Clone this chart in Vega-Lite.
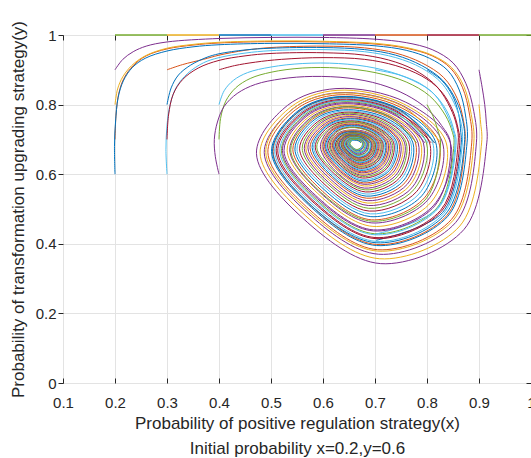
{
"$schema":"https://vega.github.io/schema/vega-lite/v6.json",
"width":468,"height":348,
"autosize":{"type":"none"},
"padding":{"left":63,"top":35,"right":0,"bottom":75},
"background":"#ffffff",
"config":{
"view":{"stroke":"#262626","strokeWidth":1},
"axis":{"labelFont":"Liberation Sans","titleFont":"Liberation Sans","labelFontSize":15,"titleFontSize":17,"labelColor":"#262626","titleColor":"#262626","titleFontWeight":"normal","gridColor":"#e3e3e3","domain":false,"tickColor":"#262626","tickSize":-5,"labelFlush":false,"labelOverlap":false}
},
"datasets":{
"traj":[
{"t":4,"x":0.9,"y":0.9},{"t":4,"x":0.906,"y":0.85},{"t":4,"x":0.911,"y":0.8},{"t":4,"x":0.914,"y":0.75},
{"t":4,"x":0.915,"y":0.69},{"t":4,"x":0.871,"y":0.441},{"t":4,"x":0.711,"y":0.343},{"t":4,"x":0.563,"y":0.471},{"t":4,"x":0.472,"y":0.66},{"t":4,"x":0.532,"y":0.798},{"t":4,"x":0.625,"y":0.846},{"t":4,"x":0.759,"y":0.807},
{"t":4,"x":0.845,"y":0.69},{"t":4,"x":0.813,"y":0.511},{"t":4,"x":0.697,"y":0.44},{"t":4,"x":0.591,"y":0.532},{"t":4,"x":0.525,"y":0.668},{"t":4,"x":0.569,"y":0.767},{"t":4,"x":0.635,"y":0.802},{"t":4,"x":0.732,"y":0.774},
{"t":4,"x":0.793,"y":0.69},{"t":4,"x":0.771,"y":0.561},{"t":4,"x":0.687,"y":0.51},{"t":4,"x":0.611,"y":0.576},{"t":4,"x":0.564,"y":0.674},{"t":4,"x":0.595,"y":0.746},{"t":4,"x":0.643,"y":0.772},{"t":4,"x":0.712,"y":0.75},
{"t":4,"x":0.757,"y":0.69},{"t":4,"x":0.74,"y":0.597},{"t":4,"x":0.68,"y":0.56},{"t":4,"x":0.625,"y":0.608},{"t":4,"x":0.595,"y":0.679},{"t":4,"x":0.614,"y":0.73},{"t":4,"x":0.648,"y":0.749},{"t":4,"x":0.698,"y":0.734},
{"t":4,"x":0.73,"y":0.69},{"t":4,"x":0.718,"y":0.623},{"t":4,"x":0.675,"y":0.597},{"t":4,"x":0.635,"y":0.631},{"t":4,"x":0.614,"y":0.682},{"t":4,"x":0.627,"y":0.716},{"t":4,"x":0.652,"y":0.727},{"t":4,"x":0.688,"y":0.719},
{"t":4,"x":0.711,"y":0.69},{"t":4,"x":0.703,"y":0.642},{"t":4,"x":0.671,"y":0.623},{"t":4,"x":0.643,"y":0.648},{"t":4,"x":0.627,"y":0.684},{"t":4,"x":0.637,"y":0.709},{"t":4,"x":0.655,"y":0.717},{"t":4,"x":0.681,"y":0.711},
{"t":4,"x":0.697,"y":0.69},{"t":4,"x":0.691,"y":0.655},{"t":4,"x":0.669,"y":0.642},{"t":4,"x":0.648,"y":0.66},{"t":4,"x":0.637,"y":0.686},{"t":4,"x":0.644,"y":0.703},{"t":4,"x":0.657,"y":0.709},{"t":4,"x":0.676,"y":0.705},
{"t":4,"x":0.687,"y":0.69},{"t":4,"x":0.683,"y":0.665},{"t":4,"x":0.667,"y":0.655},{"t":4,"x":0.652,"y":0.668},{"t":4,"x":0.644,"y":0.687},{"t":4,"x":0.649,"y":0.7},{"t":4,"x":0.658,"y":0.704},{"t":4,"x":0.672,"y":0.701},{"t":4,"x":0.68,"y":0.69},
{"t":5,"x":0.9,"y":0.8},{"t":5,"x":0.903,"y":0.75},
{"t":5,"x":0.905,"y":0.69},{"t":5,"x":0.863,"y":0.451},{"t":5,"x":0.709,"y":0.357},{"t":5,"x":0.567,"y":0.48},{"t":5,"x":0.479,"y":0.661},{"t":5,"x":0.538,"y":0.793},{"t":5,"x":0.627,"y":0.841},{"t":5,"x":0.755,"y":0.802},
{"t":5,"x":0.837,"y":0.69},{"t":5,"x":0.807,"y":0.518},{"t":5,"x":0.696,"y":0.45},{"t":5,"x":0.594,"y":0.539},{"t":5,"x":0.531,"y":0.669},{"t":5,"x":0.572,"y":0.764},{"t":5,"x":0.637,"y":0.798},{"t":5,"x":0.729,"y":0.77},
{"t":5,"x":0.788,"y":0.69},{"t":5,"x":0.766,"y":0.566},{"t":5,"x":0.686,"y":0.517},{"t":5,"x":0.613,"y":0.581},{"t":5,"x":0.567,"y":0.675},{"t":5,"x":0.598,"y":0.744},{"t":5,"x":0.644,"y":0.768},{"t":5,"x":0.71,"y":0.748},
{"t":5,"x":0.753,"y":0.69},{"t":5,"x":0.737,"y":0.601},{"t":5,"x":0.68,"y":0.566},{"t":5,"x":0.627,"y":0.612},{"t":5,"x":0.598,"y":0.679},{"t":5,"x":0.616,"y":0.728},{"t":5,"x":0.649,"y":0.747},{"t":5,"x":0.697,"y":0.732},
{"t":5,"x":0.727,"y":0.69},{"t":5,"x":0.716,"y":0.626},{"t":5,"x":0.675,"y":0.6},{"t":5,"x":0.636,"y":0.634},{"t":5,"x":0.616,"y":0.682},{"t":5,"x":0.629,"y":0.715},{"t":5,"x":0.652,"y":0.726},{"t":5,"x":0.687,"y":0.717},
{"t":5,"x":0.709,"y":0.69},{"t":5,"x":0.701,"y":0.644},{"t":5,"x":0.671,"y":0.625},{"t":5,"x":0.644,"y":0.649},{"t":5,"x":0.629,"y":0.684},{"t":5,"x":0.638,"y":0.708},{"t":5,"x":0.655,"y":0.716},{"t":5,"x":0.68,"y":0.71},
{"t":5,"x":0.696,"y":0.69},{"t":5,"x":0.69,"y":0.657},{"t":5,"x":0.669,"y":0.644},{"t":5,"x":0.649,"y":0.661},{"t":5,"x":0.638,"y":0.686},{"t":5,"x":0.645,"y":0.703},{"t":5,"x":0.657,"y":0.708},{"t":5,"x":0.675,"y":0.704},
{"t":6,"x":0.2,"y":0.9},{"t":6,"x":0.215,"y":0.93},{"t":6,"x":0.235,"y":0.952},{"t":6,"x":0.26,"y":0.968},{"t":6,"x":0.3,"y":0.98},{"t":6,"x":0.4,"y":0.99},{"t":6,"x":0.5,"y":0.993},{"t":6,"x":0.6,"y":0.993},{"t":6,"x":0.7,"y":0.988},{"t":6,"x":0.76,"y":0.978},{"t":6,"x":0.81,"y":0.958},{"t":6,"x":0.85,"y":0.92},{"t":6,"x":0.875,"y":0.86},{"t":6,"x":0.89,"y":0.78},
{"t":6,"x":0.895,"y":0.69},{"t":6,"x":0.855,"y":0.461},{"t":6,"x":0.707,"y":0.37},{"t":6,"x":0.571,"y":0.488},{"t":6,"x":0.487,"y":0.662},{"t":6,"x":0.543,"y":0.789},{"t":6,"x":0.628,"y":0.834},{"t":6,"x":0.752,"y":0.798},
{"t":6,"x":0.83,"y":0.69},{"t":6,"x":0.801,"y":0.525},{"t":6,"x":0.694,"y":0.46},{"t":6,"x":0.596,"y":0.545},{"t":6,"x":0.536,"y":0.67},{"t":6,"x":0.576,"y":0.762},{"t":6,"x":0.638,"y":0.794},{"t":6,"x":0.727,"y":0.767},
{"t":6,"x":0.783,"y":0.69},{"t":6,"x":0.762,"y":0.571},{"t":6,"x":0.685,"y":0.524},{"t":6,"x":0.615,"y":0.585},{"t":6,"x":0.571,"y":0.676},{"t":6,"x":0.6,"y":0.741},{"t":6,"x":0.644,"y":0.765},{"t":6,"x":0.708,"y":0.746},
{"t":6,"x":0.749,"y":0.69},{"t":6,"x":0.734,"y":0.604},{"t":6,"x":0.679,"y":0.571},{"t":6,"x":0.628,"y":0.615},{"t":6,"x":0.6,"y":0.68},{"t":6,"x":0.617,"y":0.727},{"t":6,"x":0.649,"y":0.744},{"t":6,"x":0.695,"y":0.73},
{"t":6,"x":0.725,"y":0.69},{"t":6,"x":0.714,"y":0.628},{"t":6,"x":0.674,"y":0.604},{"t":6,"x":0.637,"y":0.636},{"t":6,"x":0.618,"y":0.683},{"t":6,"x":0.63,"y":0.714},{"t":6,"x":0.653,"y":0.724},{"t":6,"x":0.686,"y":0.716},
{"t":6,"x":0.707,"y":0.69},{"t":6,"x":0.699,"y":0.646},{"t":6,"x":0.671,"y":0.628},{"t":6,"x":0.644,"y":0.651},{"t":6,"x":0.63,"y":0.685},{"t":6,"x":0.639,"y":0.707},{"t":6,"x":0.655,"y":0.715},{"t":6,"x":0.679,"y":0.709},
{"t":6,"x":0.694,"y":0.69},{"t":6,"x":0.689,"y":0.658},{"t":6,"x":0.668,"y":0.646},{"t":6,"x":0.649,"y":0.662},{"t":6,"x":0.639,"y":0.686},{"t":6,"x":0.645,"y":0.702},{"t":6,"x":0.657,"y":0.708},{"t":6,"x":0.675,"y":0.704},
{"t":6,"x":0.685,"y":0.69},{"t":6,"x":0.681,"y":0.667},{"t":6,"x":0.667,"y":0.658},{"t":6,"x":0.653,"y":0.67},{"t":6,"x":0.645,"y":0.687},{"t":6,"x":0.65,"y":0.699},{"t":6,"x":0.659,"y":0.703},{"t":6,"x":0.671,"y":0.7},
{"t":6,"x":0.679,"y":0.69},{"t":6,"x":0.676,"y":0.673},{"t":6,"x":0.665,"y":0.667},{"t":6,"x":0.655,"y":0.676},{"t":6,"x":0.65,"y":0.688},{"t":6,"x":0.653,"y":0.696},{"t":6,"x":0.66,"y":0.699},{"t":6,"x":0.668,"y":0.697},{"t":6,"x":0.674,"y":0.69},
{"t":7,"x":0.2,"y":0.7},{"t":7,"x":0.202,"y":0.77},{"t":7,"x":0.207,"y":0.83},{"t":7,"x":0.217,"y":0.875},{"t":7,"x":0.235,"y":0.912},{"t":7,"x":0.26,"y":0.94},{"t":7,"x":0.3,"y":0.96},{"t":7,"x":0.35,"y":0.971},{"t":7,"x":0.4,"y":0.977},{"t":7,"x":0.5,"y":0.981},{"t":7,"x":0.6,"y":0.98},{"t":7,"x":0.7,"y":0.974},{"t":7,"x":0.76,"y":0.962},{"t":7,"x":0.81,"y":0.94},{"t":7,"x":0.845,"y":0.905},{"t":7,"x":0.868,"y":0.85},{"t":7,"x":0.882,"y":0.77},
{"t":7,"x":0.886,"y":0.69},{"t":7,"x":0.847,"y":0.47},{"t":7,"x":0.705,"y":0.383},{"t":7,"x":0.575,"y":0.497},{"t":7,"x":0.494,"y":0.663},{"t":7,"x":0.547,"y":0.785},{"t":7,"x":0.629,"y":0.828},{"t":7,"x":0.748,"y":0.793},
{"t":7,"x":0.823,"y":0.69},{"t":7,"x":0.795,"y":0.532},{"t":7,"x":0.693,"y":0.469},{"t":7,"x":0.599,"y":0.551},{"t":7,"x":0.542,"y":0.671},{"t":7,"x":0.58,"y":0.758},{"t":7,"x":0.639,"y":0.79},{"t":7,"x":0.724,"y":0.765},
{"t":7,"x":0.778,"y":0.69},{"t":7,"x":0.758,"y":0.576},{"t":7,"x":0.684,"y":0.531},{"t":7,"x":0.617,"y":0.59},{"t":7,"x":0.575,"y":0.676},{"t":7,"x":0.603,"y":0.739},{"t":7,"x":0.645,"y":0.761},{"t":7,"x":0.707,"y":0.744},
{"t":7,"x":0.746,"y":0.69},{"t":7,"x":0.731,"y":0.608},{"t":7,"x":0.678,"y":0.575},{"t":7,"x":0.629,"y":0.618},{"t":7,"x":0.603,"y":0.68},{"t":7,"x":0.619,"y":0.726},{"t":7,"x":0.65,"y":0.742},{"t":7,"x":0.694,"y":0.729},
{"t":7,"x":0.722,"y":0.69},{"t":7,"x":0.712,"y":0.631},{"t":7,"x":0.674,"y":0.607},{"t":7,"x":0.639,"y":0.638},{"t":7,"x":0.619,"y":0.683},{"t":7,"x":0.631,"y":0.713},{"t":7,"x":0.653,"y":0.723},{"t":7,"x":0.685,"y":0.715},
{"t":7,"x":0.705,"y":0.69},{"t":7,"x":0.698,"y":0.648},{"t":7,"x":0.67,"y":0.63},{"t":7,"x":0.645,"y":0.653},{"t":7,"x":0.631,"y":0.685},{"t":7,"x":0.64,"y":0.706},{"t":7,"x":0.656,"y":0.714},{"t":7,"x":0.679,"y":0.708},
{"t":7,"x":0.693,"y":0.69},{"t":7,"x":0.688,"y":0.659},{"t":7,"x":0.668,"y":0.647},{"t":7,"x":0.65,"y":0.663},{"t":7,"x":0.64,"y":0.686},{"t":7,"x":0.646,"y":0.702},{"t":7,"x":0.657,"y":0.707},{"t":7,"x":0.674,"y":0.703},{"t":7,"x":0.685,"y":0.69},
{"t":9,"x":0.2,"y":0.8},{"t":9,"x":0.205,"y":0.845},{"t":9,"x":0.215,"y":0.88},{"t":9,"x":0.232,"y":0.912},{"t":9,"x":0.258,"y":0.94},{"t":9,"x":0.3,"y":0.962},{"t":9,"x":0.35,"y":0.973},{"t":9,"x":0.4,"y":0.979},{"t":9,"x":0.5,"y":0.983},{"t":9,"x":0.6,"y":0.982},{"t":9,"x":0.7,"y":0.976},{"t":9,"x":0.76,"y":0.964},{"t":9,"x":0.81,"y":0.942},{"t":9,"x":0.847,"y":0.907},{"t":9,"x":0.871,"y":0.852},{"t":9,"x":0.885,"y":0.772},
{"t":9,"x":0.89,"y":0.69},{"t":9,"x":0.85,"y":0.467},{"t":9,"x":0.705,"y":0.379},{"t":9,"x":0.572,"y":0.494},{"t":9,"x":0.49,"y":0.663},{"t":9,"x":0.544,"y":0.79},{"t":9,"x":0.629,"y":0.833},{"t":9,"x":0.751,"y":0.797},{"t":9,"x":0.827,"y":0.69},
{"t":0,"x":0.2,"y":0.6},{"t":0,"x":0.199,"y":0.68},{"t":0,"x":0.201,"y":0.75},{"t":0,"x":0.206,"y":0.82},{"t":0,"x":0.216,"y":0.868},{"t":0,"x":0.233,"y":0.906},{"t":0,"x":0.258,"y":0.933},{"t":0,"x":0.3,"y":0.954},{"t":0,"x":0.35,"y":0.966},{"t":0,"x":0.4,"y":0.972},{"t":0,"x":0.5,"y":0.976},{"t":0,"x":0.6,"y":0.975},{"t":0,"x":0.7,"y":0.969},{"t":0,"x":0.76,"y":0.956},{"t":0,"x":0.805,"y":0.933},{"t":0,"x":0.84,"y":0.898},{"t":0,"x":0.862,"y":0.842},{"t":0,"x":0.874,"y":0.77},
{"t":0,"x":0.877,"y":0.69},{"t":0,"x":0.84,"y":0.479},{"t":0,"x":0.703,"y":0.395},{"t":0,"x":0.578,"y":0.504},{"t":0,"x":0.501,"y":0.665},{"t":0,"x":0.552,"y":0.782},{"t":0,"x":0.631,"y":0.823},{"t":0,"x":0.745,"y":0.789},
{"t":0,"x":0.817,"y":0.69},{"t":0,"x":0.79,"y":0.538},{"t":0,"x":0.692,"y":0.478},{"t":0,"x":0.602,"y":0.556},{"t":0,"x":0.546,"y":0.672},{"t":0,"x":0.583,"y":0.756},{"t":0,"x":0.639,"y":0.785},{"t":0,"x":0.722,"y":0.761},
{"t":0,"x":0.773,"y":0.69},{"t":0,"x":0.754,"y":0.58},{"t":0,"x":0.683,"y":0.537},{"t":0,"x":0.618,"y":0.594},{"t":0,"x":0.579,"y":0.677},{"t":0,"x":0.605,"y":0.737},{"t":0,"x":0.646,"y":0.759},{"t":0,"x":0.705,"y":0.742},
{"t":0,"x":0.742,"y":0.69},{"t":0,"x":0.728,"y":0.611},{"t":0,"x":0.677,"y":0.58},{"t":0,"x":0.631,"y":0.621},{"t":0,"x":0.605,"y":0.68},{"t":0,"x":0.621,"y":0.724},{"t":0,"x":0.65,"y":0.74},{"t":0,"x":0.693,"y":0.727},
{"t":0,"x":0.72,"y":0.69},{"t":0,"x":0.71,"y":0.633},{"t":0,"x":0.673,"y":0.611},{"t":0,"x":0.639,"y":0.64},{"t":0,"x":0.621,"y":0.683},{"t":0,"x":0.632,"y":0.712},{"t":0,"x":0.654,"y":0.722},{"t":0,"x":0.684,"y":0.714},
{"t":0,"x":0.703,"y":0.69},{"t":0,"x":0.696,"y":0.649},{"t":0,"x":0.67,"y":0.633},{"t":0,"x":0.646,"y":0.654},{"t":0,"x":0.632,"y":0.685},{"t":0,"x":0.641,"y":0.706},{"t":0,"x":0.656,"y":0.713},{"t":0,"x":0.678,"y":0.707},
{"t":0,"x":0.692,"y":0.69},{"t":0,"x":0.687,"y":0.661},{"t":0,"x":0.668,"y":0.649},{"t":0,"x":0.65,"y":0.664},{"t":0,"x":0.641,"y":0.686},{"t":0,"x":0.647,"y":0.701},{"t":0,"x":0.658,"y":0.706},{"t":0,"x":0.674,"y":0.703},
{"t":0,"x":0.684,"y":0.69},{"t":0,"x":0.68,"y":0.669},{"t":0,"x":0.666,"y":0.661},{"t":0,"x":0.654,"y":0.671},{"t":0,"x":0.647,"y":0.687},{"t":0,"x":0.651,"y":0.698},{"t":0,"x":0.659,"y":0.702},{"t":0,"x":0.67,"y":0.699},
{"t":0,"x":0.677,"y":0.69},{"t":0,"x":0.675,"y":0.675},{"t":0,"x":0.665,"y":0.669},{"t":0,"x":0.656,"y":0.677},{"t":0,"x":0.651,"y":0.688},{"t":0,"x":0.654,"y":0.696},{"t":0,"x":0.66,"y":0.698},{"t":0,"x":0.668,"y":0.696},{"t":0,"x":0.673,"y":0.69},
{"t":11,"x":0.3,"y":0.9},{"t":11,"x":0.33,"y":0.915},{"t":11,"x":0.37,"y":0.93},{"t":11,"x":0.4,"y":0.942},{"t":11,"x":0.45,"y":0.956},{"t":11,"x":0.5,"y":0.964},{"t":11,"x":0.6,"y":0.968},{"t":11,"x":0.68,"y":0.963},{"t":11,"x":0.74,"y":0.948},{"t":11,"x":0.79,"y":0.92},{"t":11,"x":0.832,"y":0.878},{"t":11,"x":0.858,"y":0.818},{"t":11,"x":0.87,"y":0.755},{"t":11,"x":0.873,"y":0.69},
{"t":11,"x":0.838,"y":0.481},{"t":11,"x":0.703,"y":0.398},{"t":11,"x":0.58,"y":0.506},{"t":11,"x":0.504,"y":0.665},{"t":11,"x":0.554,"y":0.78},{"t":11,"x":0.631,"y":0.82},{"t":11,"x":0.743,"y":0.787},{"t":11,"x":0.814,"y":0.69},
{"t":16,"x":0.8,"y":0.9},{"t":16,"x":0.828,"y":0.87},{"t":16,"x":0.849,"y":0.826},{"t":16,"x":0.861,"y":0.772},{"t":16,"x":0.865,"y":0.72},{"t":16,"x":0.866,"y":0.69},{"t":16,"x":0.83,"y":0.49},{"t":16,"x":0.702,"y":0.41},
{"t":1,"x":0.3,"y":0.6},{"t":1,"x":0.298,"y":0.67},{"t":1,"x":0.3,"y":0.74},{"t":1,"x":0.306,"y":0.8},{"t":1,"x":0.318,"y":0.85},{"t":1,"x":0.34,"y":0.89},{"t":1,"x":0.37,"y":0.92},{"t":1,"x":0.4,"y":0.935},{"t":1,"x":0.45,"y":0.948},{"t":1,"x":0.5,"y":0.955},{"t":1,"x":0.6,"y":0.958},{"t":1,"x":0.68,"y":0.952},{"t":1,"x":0.74,"y":0.935},{"t":1,"x":0.79,"y":0.905},{"t":1,"x":0.828,"y":0.862},{"t":1,"x":0.852,"y":0.805},{"t":1,"x":0.865,"y":0.75},
{"t":1,"x":0.868,"y":0.69},{"t":1,"x":0.832,"y":0.487},{"t":1,"x":0.702,"y":0.407},{"t":1,"x":0.581,"y":0.512},{"t":1,"x":0.507,"y":0.666},{"t":1,"x":0.556,"y":0.777},{"t":1,"x":0.632,"y":0.818},{"t":1,"x":0.741,"y":0.785},
{"t":1,"x":0.811,"y":0.69},{"t":1,"x":0.785,"y":0.544},{"t":1,"x":0.691,"y":0.486},{"t":1,"x":0.604,"y":0.562},{"t":1,"x":0.55,"y":0.672},{"t":1,"x":0.586,"y":0.753},{"t":1,"x":0.64,"y":0.782},{"t":1,"x":0.719,"y":0.758},
{"t":1,"x":0.769,"y":0.69},{"t":1,"x":0.75,"y":0.585},{"t":1,"x":0.683,"y":0.543},{"t":1,"x":0.62,"y":0.598},{"t":1,"x":0.582,"y":0.677},{"t":1,"x":0.607,"y":0.736},{"t":1,"x":0.646,"y":0.756},{"t":1,"x":0.703,"y":0.739},
{"t":1,"x":0.739,"y":0.69},{"t":1,"x":0.726,"y":0.614},{"t":1,"x":0.677,"y":0.584},{"t":1,"x":0.632,"y":0.623},{"t":1,"x":0.607,"y":0.681},{"t":1,"x":0.623,"y":0.723},{"t":1,"x":0.651,"y":0.738},{"t":1,"x":0.692,"y":0.725},
{"t":1,"x":0.717,"y":0.69},{"t":1,"x":0.708,"y":0.636},{"t":1,"x":0.673,"y":0.614},{"t":1,"x":0.64,"y":0.642},{"t":1,"x":0.623,"y":0.683},{"t":1,"x":0.634,"y":0.711},{"t":1,"x":0.654,"y":0.72},{"t":1,"x":0.683,"y":0.713},
{"t":1,"x":0.702,"y":0.69},{"t":1,"x":0.695,"y":0.651},{"t":1,"x":0.67,"y":0.635},{"t":1,"x":0.646,"y":0.656},{"t":1,"x":0.634,"y":0.685},{"t":1,"x":0.642,"y":0.705},{"t":1,"x":0.656,"y":0.712},{"t":1,"x":0.677,"y":0.707},
{"t":1,"x":0.691,"y":0.69},{"t":1,"x":0.686,"y":0.662},{"t":1,"x":0.668,"y":0.651},{"t":1,"x":0.651,"y":0.665},{"t":1,"x":0.641,"y":0.687},{"t":1,"x":0.647,"y":0.701},{"t":1,"x":0.658,"y":0.706},{"t":1,"x":0.673,"y":0.702},
{"t":1,"x":0.683,"y":0.69},{"t":1,"x":0.679,"y":0.67},{"t":1,"x":0.666,"y":0.662},{"t":1,"x":0.654,"y":0.672},{"t":1,"x":0.647,"y":0.688},{"t":1,"x":0.651,"y":0.698},{"t":1,"x":0.659,"y":0.701},{"t":1,"x":0.67,"y":0.699},
{"t":1,"x":0.677,"y":0.69},{"t":1,"x":0.674,"y":0.675},{"t":1,"x":0.665,"y":0.67},{"t":1,"x":0.656,"y":0.677},{"t":1,"x":0.651,"y":0.688},{"t":1,"x":0.654,"y":0.696},{"t":1,"x":0.66,"y":0.698},
{"t":10,"x":0.3,"y":0.8},{"t":10,"x":0.308,"y":0.848},{"t":10,"x":0.322,"y":0.885},{"t":10,"x":0.345,"y":0.913},{"t":10,"x":0.375,"y":0.935},{"t":10,"x":0.4,"y":0.946},{"t":10,"x":0.45,"y":0.957},{"t":10,"x":0.5,"y":0.962},{"t":10,"x":0.6,"y":0.964},{"t":10,"x":0.68,"y":0.958},{"t":10,"x":0.74,"y":0.942},{"t":10,"x":0.79,"y":0.912},{"t":10,"x":0.83,"y":0.87},{"t":10,"x":0.856,"y":0.812},{"t":10,"x":0.869,"y":0.752},{"t":10,"x":0.872,"y":0.69},
{"t":10,"x":0.835,"y":0.484},{"t":10,"x":0.702,"y":0.403},{"t":10,"x":0.578,"y":0.509},{"t":10,"x":0.503,"y":0.666},{"t":10,"x":0.553,"y":0.78},{"t":10,"x":0.632,"y":0.822},{"t":10,"x":0.744,"y":0.788},{"t":10,"x":0.815,"y":0.69},
{"t":2,"x":0.3,"y":0.7},{"t":2,"x":0.303,"y":0.77},{"t":2,"x":0.312,"y":0.83},{"t":2,"x":0.33,"y":0.872},{"t":2,"x":0.36,"y":0.905},{"t":2,"x":0.4,"y":0.927},{"t":2,"x":0.45,"y":0.94},{"t":2,"x":0.5,"y":0.947},{"t":2,"x":0.6,"y":0.949},{"t":2,"x":0.68,"y":0.942},{"t":2,"x":0.74,"y":0.922},{"t":2,"x":0.785,"y":0.892},{"t":2,"x":0.82,"y":0.85},{"t":2,"x":0.845,"y":0.79},{"t":2,"x":0.857,"y":0.74},
{"t":2,"x":0.86,"y":0.69},{"t":2,"x":0.826,"y":0.496},{"t":2,"x":0.7,"y":0.418},{"t":2,"x":0.585,"y":0.519},{"t":2,"x":0.513,"y":0.667},{"t":2,"x":0.561,"y":0.774},{"t":2,"x":0.633,"y":0.812},{"t":2,"x":0.738,"y":0.781},
{"t":2,"x":0.805,"y":0.69},{"t":2,"x":0.78,"y":0.55},{"t":2,"x":0.689,"y":0.494},{"t":2,"x":0.606,"y":0.567},{"t":2,"x":0.555,"y":0.673},{"t":2,"x":0.589,"y":0.75},{"t":2,"x":0.641,"y":0.778},{"t":2,"x":0.717,"y":0.756},
{"t":2,"x":0.765,"y":0.69},{"t":2,"x":0.747,"y":0.589},{"t":2,"x":0.682,"y":0.549},{"t":2,"x":0.622,"y":0.601},{"t":2,"x":0.585,"y":0.678},{"t":2,"x":0.609,"y":0.734},{"t":2,"x":0.647,"y":0.753},{"t":2,"x":0.701,"y":0.737},
{"t":2,"x":0.736,"y":0.69},{"t":2,"x":0.723,"y":0.617},{"t":2,"x":0.676,"y":0.589},{"t":2,"x":0.633,"y":0.626},{"t":2,"x":0.609,"y":0.681},{"t":2,"x":0.624,"y":0.721},{"t":2,"x":0.651,"y":0.735},{"t":2,"x":0.69,"y":0.724},
{"t":2,"x":0.715,"y":0.69},{"t":2,"x":0.706,"y":0.638},{"t":2,"x":0.672,"y":0.617},{"t":2,"x":0.641,"y":0.644},{"t":2,"x":0.624,"y":0.684},{"t":2,"x":0.635,"y":0.71},{"t":2,"x":0.654,"y":0.719},{"t":2,"x":0.682,"y":0.712},
{"t":2,"x":0.7,"y":0.69},{"t":2,"x":0.694,"y":0.652},{"t":2,"x":0.669,"y":0.638},{"t":2,"x":0.647,"y":0.657},{"t":2,"x":0.635,"y":0.685},{"t":2,"x":0.642,"y":0.705},{"t":2,"x":0.656,"y":0.711},{"t":2,"x":0.677,"y":0.706},{"t":2,"x":0.69,"y":0.69},
{"t":12,"x":0.4,"y":0.9},{"t":12,"x":0.43,"y":0.912},{"t":12,"x":0.47,"y":0.922},{"t":12,"x":0.52,"y":0.93},{"t":12,"x":0.6,"y":0.935},{"t":12,"x":0.68,"y":0.93},{"t":12,"x":0.74,"y":0.912},{"t":12,"x":0.79,"y":0.882},{"t":12,"x":0.825,"y":0.842},{"t":12,"x":0.848,"y":0.788},{"t":12,"x":0.86,"y":0.73},{"t":12,"x":0.863,"y":0.69},
{"t":12,"x":0.828,"y":0.494},{"t":12,"x":0.7,"y":0.415},{"t":12,"x":0.583,"y":0.517},{"t":12,"x":0.51,"y":0.667},{"t":12,"x":0.559,"y":0.776},{"t":12,"x":0.633,"y":0.815},{"t":12,"x":0.74,"y":0.783},{"t":12,"x":0.808,"y":0.69},
{"t":3,"x":0.4,"y":0.7},{"t":3,"x":0.403,"y":0.76},{"t":3,"x":0.413,"y":0.81},{"t":3,"x":0.432,"y":0.848},{"t":3,"x":0.46,"y":0.875},{"t":3,"x":0.5,"y":0.893},{"t":3,"x":0.56,"y":0.905},{"t":3,"x":0.63,"y":0.905},{"t":3,"x":0.7,"y":0.892},{"t":3,"x":0.76,"y":0.865},{"t":3,"x":0.805,"y":0.825},{"t":3,"x":0.835,"y":0.77},{"t":3,"x":0.849,"y":0.72},
{"t":3,"x":0.852,"y":0.69},{"t":3,"x":0.819,"y":0.503},{"t":3,"x":0.699,"y":0.429},{"t":3,"x":0.588,"y":0.526},{"t":3,"x":0.52,"y":0.667},{"t":3,"x":0.565,"y":0.771},{"t":3,"x":0.634,"y":0.808},{"t":3,"x":0.735,"y":0.778},
{"t":3,"x":0.799,"y":0.69},{"t":3,"x":0.775,"y":0.556},{"t":3,"x":0.688,"y":0.502},{"t":3,"x":0.609,"y":0.572},{"t":3,"x":0.56,"y":0.674},{"t":3,"x":0.592,"y":0.748},{"t":3,"x":0.642,"y":0.775},{"t":3,"x":0.714,"y":0.753},
{"t":3,"x":0.76,"y":0.69},{"t":3,"x":0.743,"y":0.593},{"t":3,"x":0.681,"y":0.555},{"t":3,"x":0.624,"y":0.605},{"t":3,"x":0.588,"y":0.678},{"t":3,"x":0.612,"y":0.731},{"t":3,"x":0.648,"y":0.751},{"t":3,"x":0.7,"y":0.735},
{"t":3,"x":0.733,"y":0.69},{"t":3,"x":0.721,"y":0.62},{"t":3,"x":0.676,"y":0.593},{"t":3,"x":0.634,"y":0.629},{"t":3,"x":0.612,"y":0.682},{"t":3,"x":0.626,"y":0.72},{"t":3,"x":0.652,"y":0.734},{"t":3,"x":0.689,"y":0.723},
{"t":3,"x":0.713,"y":0.69},{"t":3,"x":0.704,"y":0.64},{"t":3,"x":0.672,"y":0.62},{"t":3,"x":0.642,"y":0.646},{"t":3,"x":0.626,"y":0.684},{"t":3,"x":0.636,"y":0.709},{"t":3,"x":0.655,"y":0.718},{"t":3,"x":0.682,"y":0.711},
{"t":3,"x":0.699,"y":0.69},{"t":3,"x":0.692,"y":0.654},{"t":3,"x":0.669,"y":0.639},{"t":3,"x":0.648,"y":0.658},{"t":3,"x":0.636,"y":0.686},{"t":3,"x":0.643,"y":0.704},{"t":3,"x":0.657,"y":0.71},{"t":3,"x":0.676,"y":0.705},
{"t":3,"x":0.688,"y":0.69},{"t":3,"x":0.684,"y":0.664},{"t":3,"x":0.667,"y":0.654},{"t":3,"x":0.652,"y":0.667},{"t":3,"x":0.643,"y":0.687},{"t":3,"x":0.649,"y":0.7},{"t":3,"x":0.658,"y":0.704},{"t":3,"x":0.672,"y":0.701},
{"t":3,"x":0.681,"y":0.69},{"t":3,"x":0.678,"y":0.671},{"t":3,"x":0.666,"y":0.664},{"t":3,"x":0.655,"y":0.674},{"t":3,"x":0.648,"y":0.688},{"t":3,"x":0.652,"y":0.697},{"t":3,"x":0.659,"y":0.7},{"t":3,"x":0.669,"y":0.698},
{"t":3,"x":0.676,"y":0.69},{"t":3,"x":0.673,"y":0.677},{"t":3,"x":0.665,"y":0.671},{"t":3,"x":0.657,"y":0.678},{"t":3,"x":0.652,"y":0.688},{"t":3,"x":0.655,"y":0.695},
{"t":15,"x":0.7,"y":0.9},{"t":15,"x":0.745,"y":0.886},{"t":15,"x":0.785,"y":0.862},{"t":15,"x":0.815,"y":0.828},{"t":15,"x":0.835,"y":0.782},{"t":15,"x":0.848,"y":0.735},{"t":15,"x":0.854,"y":0.69},{"t":15,"x":0.82,"y":0.502},{"t":15,"x":0.699,"y":0.427},
{"t":13,"x":0.4,"y":0.8},{"t":13,"x":0.41,"y":0.84},{"t":13,"x":0.428,"y":0.87},{"t":13,"x":0.455,"y":0.892},{"t":13,"x":0.5,"y":0.908},{"t":13,"x":0.56,"y":0.918},{"t":13,"x":0.63,"y":0.918},{"t":13,"x":0.7,"y":0.905},{"t":13,"x":0.76,"y":0.878},{"t":13,"x":0.808,"y":0.838},{"t":13,"x":0.838,"y":0.782},{"t":13,"x":0.852,"y":0.725},{"t":13,"x":0.856,"y":0.69},
{"t":13,"x":0.821,"y":0.501},{"t":13,"x":0.699,"y":0.426},{"t":13,"x":0.586,"y":0.524},{"t":13,"x":0.517,"y":0.667},{"t":13,"x":0.563,"y":0.773},{"t":13,"x":0.634,"y":0.811},{"t":13,"x":0.737,"y":0.78},{"t":13,"x":0.802,"y":0.69},
{"t":14,"x":0.4,"y":0.6},{"t":14,"x":0.393,"y":0.65},{"t":14,"x":0.391,"y":0.7},{"t":14,"x":0.397,"y":0.75},{"t":14,"x":0.41,"y":0.795},{"t":14,"x":0.435,"y":0.832},{"t":14,"x":0.47,"y":0.858},{"t":14,"x":0.52,"y":0.874},{"t":14,"x":0.58,"y":0.881},{"t":14,"x":0.65,"y":0.876},{"t":14,"x":0.71,"y":0.858},{"t":14,"x":0.76,"y":0.828},{"t":14,"x":0.8,"y":0.788},{"t":14,"x":0.828,"y":0.74},{"t":14,"x":0.845,"y":0.69},
{"t":14,"x":0.815,"y":0.509},{"t":14,"x":0.697,"y":0.437},{"t":14,"x":0.589,"y":0.53},{"t":14,"x":0.522,"y":0.668},{"t":14,"x":0.567,"y":0.769},{"t":14,"x":0.635,"y":0.805},{"t":14,"x":0.734,"y":0.776},{"t":14,"x":0.796,"y":0.69},
{"t":17,"x":0.8,"y":0.8},{"t":17,"x":0.812,"y":0.765},{"t":17,"x":0.82,"y":0.73},{"t":17,"x":0.826,"y":0.69},{"t":17,"x":0.798,"y":0.529},{"t":17,"x":0.694,"y":0.465},{"t":17,"x":0.596,"y":0.548},{"t":17,"x":0.538,"y":0.67},{"t":17,"x":0.578,"y":0.76},{"t":17,"x":0.638,"y":0.793},{"t":17,"x":0.725,"y":0.767},{"t":17,"x":0.78,"y":0.69}
],
"top":[
{"t":101,"x":0.2,"y":1},{"t":101,"x":0.3,"y":1},
{"t":102,"x":0.3,"y":1},{"t":102,"x":0.4,"y":1},
{"t":103,"x":0.4,"y":1},{"t":103,"x":0.5,"y":1},
{"t":104,"x":0.5,"y":1},{"t":104,"x":0.6,"y":1},
{"t":105,"x":0.6,"y":1},{"t":105,"x":0.7,"y":1},
{"t":106,"x":0.7,"y":1},{"t":106,"x":0.8,"y":1},
{"t":107,"x":0.8,"y":1},{"t":107,"x":0.9,"y":1},
{"t":108,"x":0.9,"y":1},{"t":108,"x":1,"y":1}
]
},
"layer":[
{"data":{"name":"traj"},
"mark":{"type":"line","order":false,"interpolate":"catmull-rom","strokeWidth":1,"clip":false},
"encoding":{
"x":{"field":"x","type":"quantitative","scale":{"domain":[0.1,1],"nice":false,"zero":false},
"axis":{"orient":"bottom","values":[0.1,0.2,0.3,0.4,0.5,0.6,0.7,0.8,0.9,1],"format":"~g","tickSize":-5,"labelPadding":17,"title":["Probability of positive regulation strategy(x)","Initial probability x=0.2,y=0.6"],"titleY":32,"titleBaseline":"top","titleLineHeight":25}},
"y":{"field":"y","type":"quantitative","scale":{"domain":[0,1],"nice":false,"zero":false},
"axis":{"orient":"left","values":[0,0.2,0.4,0.6,0.8,1],"format":"~g","tickSize":5,"labelPadding":2,"title":"Probability of transformation upgrading strategy(y)","titleX":-45,"titleY":174,"titleAngle":-90,"titleAlign":"center","titleBaseline":"middle"}},
"color":{"field":"t","type":"nominal","legend":null,
"scale":{"domain":[0,1,2,3,4,5,6,7,9,10,11,12,13,14,15,16,17,101,102,103,104,105,106,107,108],
"range":["#0072BD","#4DBEEE","#A2142F","#77AC30","#7E2F8E","#EDB120","#7E2F8E","#D95319","#EDB120","#0072BD","#D95319","#A2142F","#4DBEEE","#7E2F8E","#4DBEEE","#0072BD","#77AC30","#77AC30","#EDB120","#0072BD","#4DBEEE","#7E2F8E","#D95319","#A2142F","#77AC30"]}}
}},
{"data":{"name":"top"},
"mark":{"type":"line","order":false,"strokeWidth":1.5,"clip":false},
"encoding":{
"x":{"field":"x","type":"quantitative","axis":null},
"y":{"field":"y","type":"quantitative","axis":null},
"color":{"field":"t","type":"nominal","legend":null}
}},
{"data":{"name":"top"},
"mark":{"type":"point","opacity":0},
"encoding":{
"x":{"field":"x","type":"quantitative","axis":{"orient":"top","values":[0.1,0.2,0.3,0.4,0.5,0.6,0.7,0.8,0.9,1],"labels":false,"grid":false,"title":null}},
"y":{"field":"y","type":"quantitative","axis":{"orient":"right","values":[0,0.2,0.4,0.6,0.8,1],"labels":false,"grid":false,"title":null}}
}}
],
"resolve":{"axis":{"x":"independent","y":"independent"}}
}
